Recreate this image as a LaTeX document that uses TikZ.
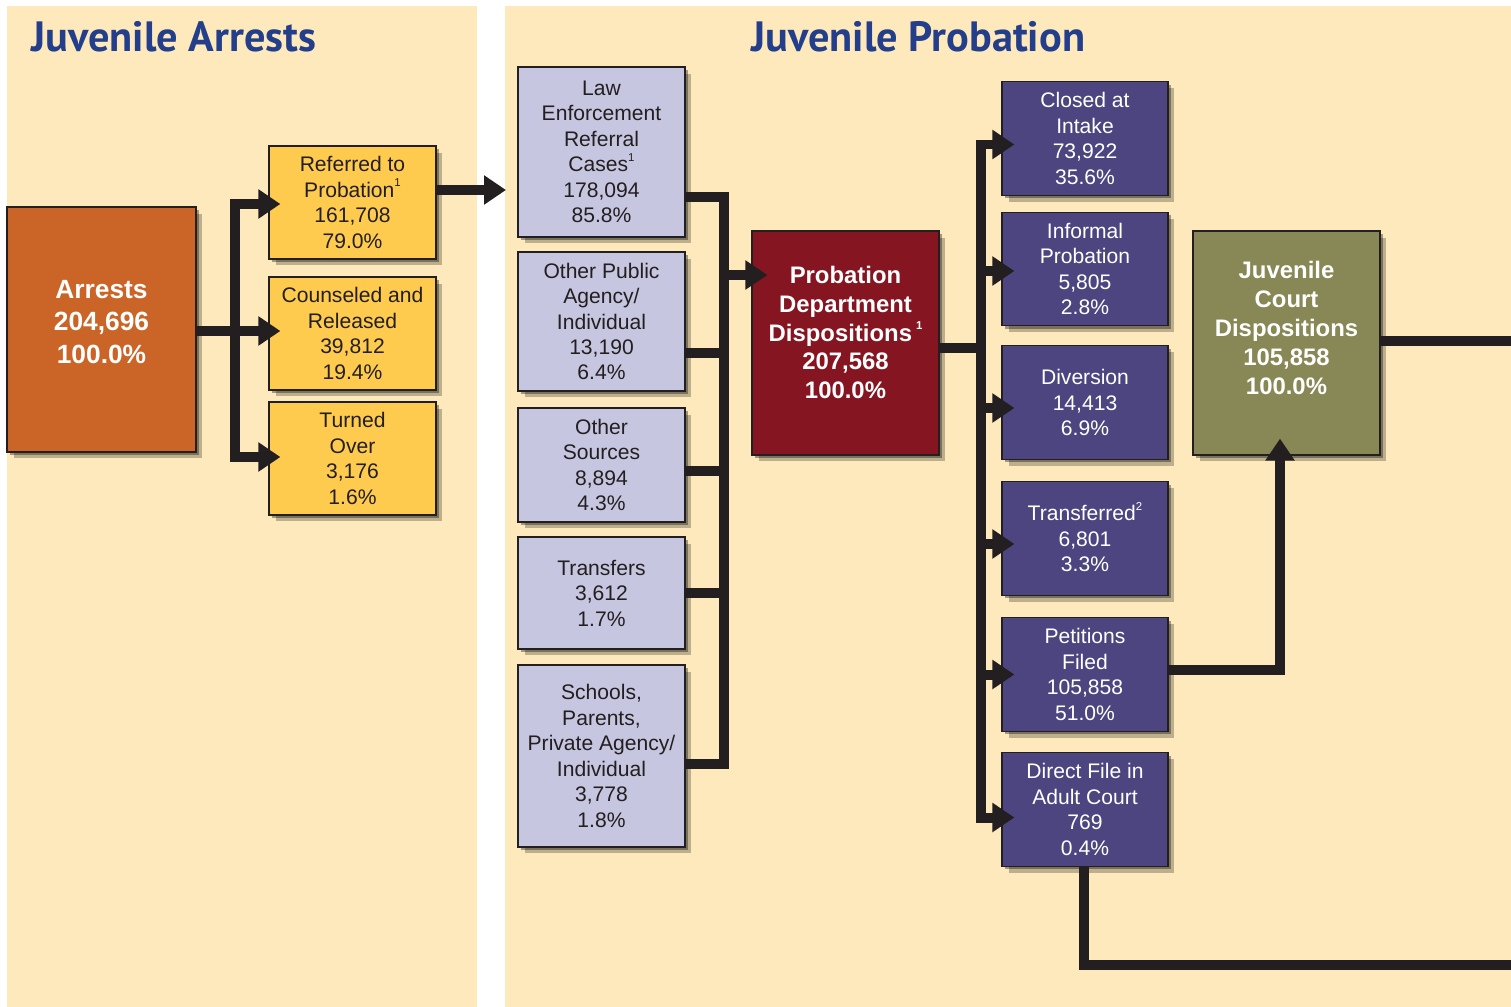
\documentclass[tikz,border=0pt]{standalone}
\usepackage{fontspec}
\setmainfont{Liberation Sans}
\newfontfamily\titlefont{PT Sans}
\usetikzlibrary{arrows.meta,calc,shadows}
\definecolor{panel}{RGB}{253,233,187}
\definecolor{linec}{RGB}{35,31,32}
\definecolor{titleblue}{RGB}{35,62,139}
\definecolor{orangebox}{RGB}{203,101,39}
\definecolor{yellowbox}{RGB}{254,203,79}
\definecolor{lavbox}{RGB}{198,198,224}
\definecolor{maroonbox}{RGB}{133,21,32}
\definecolor{purplebox}{RGB}{76,69,128}
\definecolor{olivebox}{RGB}{136,135,86}
\newcommand\supnote[1]{\smash{\raisebox{0.5em}{\fontsize{6.5}{6.5}\selectfont #1}}}
\tikzset{
  shadowed/.style={
    drop shadow={shadow xshift=0.06cm, shadow yshift=-0.06cm, fill=black, opacity=0.35},
    drop shadow={shadow xshift=0.13cm, shadow yshift=-0.13cm, fill=black, opacity=0.25}},
  box/.style={draw=linec, line width=0.7pt, inner sep=0pt, align=center,
    font=\fontsize{12}{14.5}\selectfont, shadowed},
  ybox/.style={box, fill=yellowbox, text=linec, minimum width=3.34cm, minimum height=2.26cm},
  lbox/.style={box, fill=lavbox, text=linec, minimum width=3.34cm},
  pbox/.style={box, fill=purplebox, text=white, minimum width=3.32cm, minimum height=2.27cm},
  bigbox/.style={draw=linec, line width=0.7pt, inner sep=0pt, shadowed},
  bigtext/.style={text=white, align=center, inner sep=0pt, font=\bfseries},
  title/.style={text=titleblue, inner sep=0pt, font=\titlefont\bfseries\fontsize{24.1}{28}\selectfont},
  conn/.style={draw=linec, line width=0.2cm, line join=miter},
  arr/.style={conn, -{Triangle[length=0.44cm, width=0.56cm]}}
}
\begin{document}
\begin{tikzpicture}[x=0.02cm, y=-0.02cm]
\useasboundingbox (0,0) rectangle (1511,1007);
\fill[white] (0,0) rectangle (1511,1007);
\fill[panel] (7,6) rectangle (477,1007);
\fill[panel] (505,6) rectangle (1511,1007);

\node[title, anchor=base west] (t1) at (31,52) {Juvenile Arrests};
\node[title, anchor=base west] (t2) at (751,52) {Juvenile Probation};

% left panel
\node[bigbox, fill=orangebox, minimum width=3.78cm, minimum height=4.9cm] (arrests) at (101.5,329.5) {};
\node[bigtext, font=\bfseries\fontsize{15}{18.7}\selectfont] (arrestst) at (101.5,322) {Arrests\\204,696\\100.0\%};
\node[ybox] (ref) at (352.5,202.5) {Referred to\\Probation\supnote{1}\\161,708\\79.0\%};
\node[ybox] (cr) at (352.5,333.5) {Counseled and\\Released\\39,812\\19.4\%};
\node[ybox] (turned) at (352.5,458.5) {Turned\\Over\\3,176\\1.6\%};

% sources
\node[lbox, minimum height=3.4cm] (law) at (601.5,152) {Law\\Enforcement\\Referral\\Cases\supnote{1}\\178,094\\85.8\%};
\node[lbox, minimum height=2.78cm] (op) at (601.5,321.5) {Other Public\\Agency/\\Individual\\13,190\\6.4\%};
\node[lbox, minimum height=2.28cm] (os) at (601.5,465) {Other\\Sources\\8,894\\4.3\%};
\node[lbox, minimum height=2.24cm] (tr) at (601.5,593) {Transfers\\3,612\\1.7\%};
\node[lbox, minimum height=3.64cm] (schools) at (601.5,756) {Schools,\\Parents,\\Private Agency/\\Individual\\3,778\\1.8\%};

% probation department
\node[bigbox, fill=maroonbox, minimum width=3.74cm, minimum height=4.48cm] (pd) at (845.5,343) {};
\node[bigtext, font=\bfseries\fontsize{13.6}{16.3}\selectfont] (pdt) at (845.5,332.5) {Probation\\Department\\Dispositions\,\supnote{1}\\207,568\\100.0\%};

% outcomes
\node[pbox] (closed) at (1085,138.5) {Closed at\\Intake\\73,922\\35.6\%};
\node[pbox] (informal) at (1085,269) {Informal\\Probation\\5,805\\2.8\%};
\node[pbox] (diversion) at (1085,402.5) {Diversion\\14,413\\6.9\%};
\node[pbox] (transferred) at (1085,538.5) {Transferred\supnote{2}\\6,801\\3.3\%};
\node[pbox] (pet) at (1085,674.5) {Petitions\\Filed\\105,858\\51.0\%};
\node[pbox] (direct) at (1085,809.5) {Direct File in\\Adult Court\\769\\0.4\%};

% juvenile court
\node[bigbox, fill=olivebox, minimum width=3.74cm, minimum height=4.48cm] (jc) at (1286.5,343) {};
\node[bigtext, font=\bfseries\fontsize{13.6}{16.4}\selectfont] (jct) at (1286.5,328) {Juvenile\\Court\\Dispositions\\105,858\\100.0\%};

% connectors: arrests
\coordinate (j1) at ($(arrests.east)+(38,1.5)$);
\draw[conn] ($(arrests.east)+(0,1.5)$) -- (j1);
\draw[arr, shorten >=-0.24cm] (j1) |- ($(ref.west)+(0,1.5)$);
\draw[arr, shorten >=-0.24cm] (j1) -- (j1 -| cr.west);
\draw[arr, shorten >=-0.24cm] (j1) |- ($(turned.west)+(0,-1.5)$);
\coordinate (rp) at (506,190);
\draw[arr] (ref.east |- rp) -- (rp);

% connectors: sources
\draw[conn] ($(law.east)+(0,45)$) -| ($(schools.east)+(38,8)$) -- ($(schools.east)+(0,8)$);
\draw[conn] ($(op.east)+(0,31.5)$) -- ++(38,0);
\draw[conn] ($(os.east)+(0,6)$) -- ++(38,0);
\draw[conn] (tr.east) -- ++(38,0);
\coordinate (pdin) at ($(pd.west)+(0,-68)$);
\draw[arr, shorten >=-0.32cm] ($(pdin)+(-29,0)$) -- (pdin);

% connectors: outcomes
\coordinate (ob) at ($(pd.east)+(41,5)$);
\draw[conn] ($(pd.east)+(0,5)$) -- (ob);
\draw[arr, shorten >=-0.26cm] (ob) |- ($(closed.west)+(0,6)$);
\draw[arr, shorten >=-0.26cm] (ob) |- ($(direct.west)+(0,8)$);
\draw[arr, shorten >=-0.26cm] ($(informal.west)+(-22,2)$) -- ($(informal.west)+(0,2)$);
\draw[arr, shorten >=-0.26cm] ($(diversion.west)+(-22,5.5)$) -- ($(diversion.west)+(0,5.5)$);
\draw[arr, shorten >=-0.26cm] ($(transferred.west)+(-22,5.5)$) -- ($(transferred.west)+(0,5.5)$);
\draw[arr, shorten >=-0.26cm] ($(pet.west)+(-22,0)$) -- (pet.west);

% connectors: court
\coordinate (jcin) at ($(jc.south)+(-6.5,0)$);
\draw[arr, shorten >=-0.34cm] ($(pet.east)+(0,-4.5)$) -| (jcin);
\coordinate (re1) at (1511,341);
\draw[conn] (jc.east |- re1) -- (re1);
\coordinate (re2) at (1511,965);
\draw[conn] ($(direct.south)+(-1,0)$) |- (re2);
\end{tikzpicture}
\end{document}
